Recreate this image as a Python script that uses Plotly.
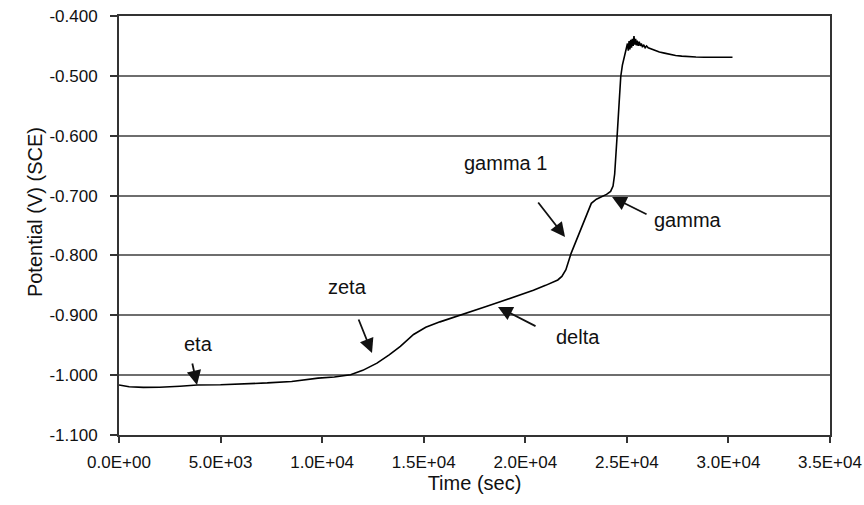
import plotly.graph_objects as go

# Data
time_s = [0, 500, 1200, 2000, 3000, 3850, 5000, 6000, 7300, 8500, 9800, 10600, 11400,
          12000, 12700, 13300, 13850, 14500, 15100, 15800, 17000, 18000, 18800, 19600,
          20400, 21000, 21600, 21800, 22000, 22250, 22600, 23000, 23250, 23500, 23750,
          24000, 24200, 24320, 24400, 24460, 24540, 24620, 24700, 24780, 24870, 24920,
          24970, 25030, 25070, 25110, 25150, 25190, 25230, 25270, 25310, 25350, 25390,
          25430, 25470, 25510, 25560, 25610, 25660, 25710, 25770, 25830, 25900, 25970,
          26050, 26200, 26400, 26600, 26850, 27100, 27400, 27700, 28000, 28400, 28800,
          29200, 29600, 30000, 30200]
potential = [-1.0165, -1.0195, -1.0205, -1.0202, -1.0185, -1.0165, -1.0160, -1.0150, -1.0130,
             -1.0105, -1.0050, -1.0030, -0.9995, -0.9920, -0.9800, -0.9660, -0.9520, -0.9320,
             -0.9200, -0.9110, -0.8980, -0.8860, -0.8770, -0.8680, -0.8580, -0.8500, -0.8410,
             -0.8350, -0.8240, -0.7970, -0.7680, -0.7350, -0.7130, -0.7060, -0.7020, -0.6980,
             -0.6930, -0.6840, -0.6640, -0.6240, -0.5900, -0.5450, -0.5010, -0.4820, -0.4680,
             -0.4600, -0.4520, -0.4460, -0.4580, -0.4420, -0.4560, -0.4400, -0.4530, -0.4380,
             -0.4500, -0.4335, -0.4480, -0.4380, -0.4490, -0.4410, -0.4500, -0.4430, -0.4500,
             -0.4460, -0.4520, -0.4480, -0.4530, -0.4500, -0.4530, -0.4550, -0.4580, -0.4600,
             -0.4620, -0.4640, -0.4660, -0.4670, -0.4680, -0.4685, -0.4690, -0.4688, -0.4685,
             -0.4685, -0.4688]

x_tick_vals = [0, 5000, 10000, 15000, 20000, 25000, 30000, 35000]
x_tick_text = ["0.0E+00", "5.0E+03", "1.0E+04", "1.5E+04", "2.0E+04", "2.5E+04", "3.0E+04", "3.5E+04"]
y_tick_vals = [-1.1, -1.0, -0.9, -0.8, -0.7, -0.6, -0.5, -0.4]
y_tick_text = ["-1.100", "-1.000", "-0.900", "-0.800", "-0.700", "-0.600", "-0.500", "-0.400"]

# Phase labels: text position, arrow tip, arrow tail offset (px)
labels = ["eta", "zeta", "delta", "gamma 1", "gamma"]
label_t = [3889, 11224, 22597, 19003, 28012]
label_v = [-0.948, -0.8527, -0.9363, -0.6456, -0.7408]
tip_t = [3840, 12455, 18658, 21957, 24271]
tip_v = [-1.0164, -0.963, -0.886, -0.7692, -0.7024]
tail_dx = [-5, -14, 39, -28, 36]
tail_dy = [-23, -35, 20, -36, 18]

FONT = "Liberation Sans, Arial, Helvetica, sans-serif"

fig = go.Figure()
fig.add_trace(go.Scatter(x=time_s, y=potential, mode="lines",
                         line=dict(color="black", width=1.6), showlegend=False))

annotations = []
for name, lt, lv, tt, tv, dx, dy in zip(labels, label_t, label_v, tip_t, tip_v, tail_dx, tail_dy):
    annotations.append(dict(x=lt, y=lv, xref="x", yref="y", text=name, showarrow=False,
                            font=dict(family=FONT, size=20, color="#111")))
    annotations.append(dict(x=tt, y=tv, xref="x", yref="y", text="", showarrow=True,
                            ax=dx, ay=dy, arrowhead=2, arrowsize=1.6, arrowwidth=1.8,
                            arrowcolor="#111", standoff=0, startstandoff=0))
annotations.append(dict(x=-0.1364, y=0.532, xref="paper", yref="paper",
                        text="Potential (V) (SCE)", textangle=-90, showarrow=False,
                        font=dict(family=FONT, size=20, color="#111")))

fig.update_layout(
    width=864, height=505,
    margin=dict(l=119, r=34, t=16, b=70, autoexpand=False),
    paper_bgcolor="white", plot_bgcolor="white",
    font=dict(family=FONT, size=17, color="#111"),
    annotations=annotations,
    xaxis=dict(range=[0, 35000], tickvals=x_tick_vals, ticktext=x_tick_text,
               showgrid=False, zeroline=False, showline=True, linecolor="#333", linewidth=2,
               mirror=True, ticks="outside", ticklen=6, tickwidth=2, tickcolor="#333",
               tickfont=dict(family=FONT, size=17), automargin=False, ticklabelstandoff=5,
               tickangle=0, ticklabeloverflow="allow",
               title=dict(text="Time (sec)", font=dict(family=FONT, size=20), standoff=4)),
    yaxis=dict(range=[-1.1, -0.4], tickvals=y_tick_vals, ticktext=y_tick_text,
               showgrid=True, gridcolor="#6e6e6e", gridwidth=1.5, automargin=False,
               zeroline=False, showline=True, linecolor="#333", linewidth=2,
               mirror=True, ticks="outside", ticklen=7, tickwidth=2, tickcolor="#333",
               tickfont=dict(family=FONT, size=17), ticklabelstandoff=9),
)

fig.write_html("out.html")
